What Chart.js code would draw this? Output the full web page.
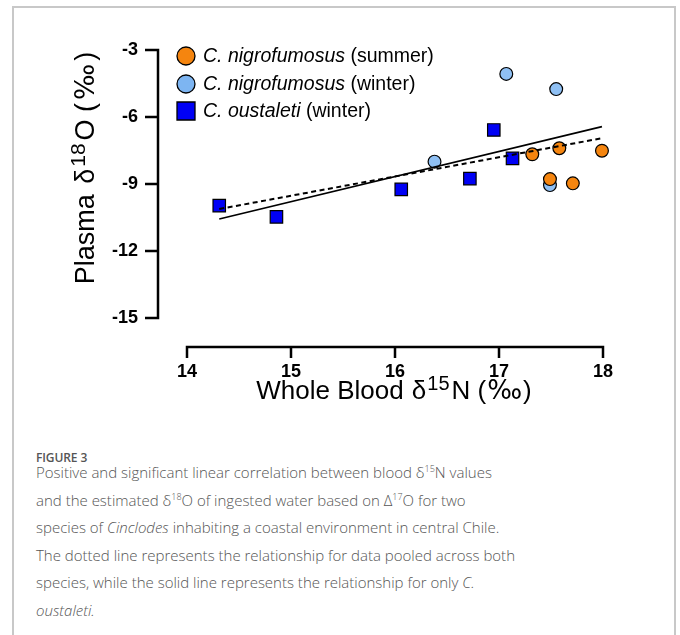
<!DOCTYPE html>
<html>
<head>
<meta charset="utf-8">
<script src="https://cdn.jsdelivr.net/npm/chart.js@4"></script>
<style>
  html, body { margin: 0; padding: 0; background: #fff; }
  body { width: 680px; height: 635px; position: relative; overflow: hidden; }
  #frame { position: absolute; left: 12px; top: 6px; width: 660px; height: 700px;
           border: 2px solid #c8c8c8; border-bottom: none; }
  #chartBox { position: absolute; left: 0; top: 0; width: 680px; height: 440px; }
  #figLabel { position: absolute; left: 36px; top: 450px; font: 600 12px/16px "Open Sans", sans-serif;
              color: #555; letter-spacing: -0.1px; }
  #caption { position: absolute; left: 36px; top: 459px; width: 630px; font: 300 15px/27.5px "Open Sans", sans-serif;
             color: #555; }
  #caption sup { font-size: 9px; line-height: 0; vertical-align: 6px; }
</style>
</head>
<body>
<div id="frame"></div>
<div id="chartBox"><canvas id="plot" width="680" height="440"></canvas></div>
<div id="figLabel">FIGURE 3</div>
<div id="caption">Positive and significant linear correlation between blood δ<sup>15</sup>N values<br>and the estimated δ<sup>18</sup>O of ingested water based on Δ<sup>17</sup>O for two<br>species of <i>Cinclodes</i> inhabiting a coastal environment in central Chile.<br>The dotted line represents the relationship for data pooled across both<br>species, while the solid line represents the relationship for only <i>C.</i><br><i>oustaleti.</i></div>
<script>
// values
const summerX = [17.32, 17.58, 17.99, 17.49, 17.71];
const summerY = [-7.67, -7.40, -7.51, -8.78, -8.97];
const winterX = [17.07, 17.55, 16.38, 17.49];
const winterY = [-4.07, -4.75, -8.00, -9.05];
const oustX = [14.31, 14.86, 16.06, 16.72, 16.95, 17.13];
const oustY = [-9.97, -10.47, -9.24, -8.76, -6.58, -7.85];
// regression lines (end points)
const oustFitX = [14.31, 17.99];
const oustFitY = [-10.57, -6.43];
const pooledFitX = [14.31, 17.99];
const pooledFitY = [-10.12, -6.95];

const xTicks = [14, 15, 16, 17, 18];
const yTicks = [-15, -12, -9, -6, -3];

const legendNames = ['C. nigrofumosus', 'C. nigrofumosus', 'C. oustaleti'];
const legendSeasons = ['(summer)', '(winter)', '(winter)'];
const legendColors = ['#F5850F', '#7DB5F2', '#0000F5'];
const legendShapes = ['circle', 'circle', 'rect'];

const FONT = 'Arial, "Liberation Sans", sans-serif';
const WIDE = '"DejaVu Sans", ' + FONT;

function toPoints(xs, ys) {
    return xs.map((x, i) => ({ x: x, y: ys[i] }));
}

// draw text made of several runs (normal / italic / superscript)
function drawRuns(ctx, runs, x, y, align) {
    let total = 0;
    runs.forEach(r => {
        ctx.font = r.font;
        r.w = ctx.measureText(r.text).width + (r.gap || 0);
        total += r.w;
    });
    let cx = align === 'center' ? x - total / 2 : x;
    runs.forEach(r => {
        ctx.font = r.font;
        ctx.fillText(r.text, cx, y - (r.rise || 0));
        cx += r.w;
    });
}

// Prism style detached axes, titles and legend
const prismPlugin = {
    id: 'prismAxes',
    afterDraw(chart) {
        const { ctx, scales: { x, y } } = chart;
        ctx.save();
        ctx.strokeStyle = '#000';
        ctx.fillStyle = '#000';
        ctx.lineWidth = 2.5;
        ctx.lineCap = 'butt';

        // y axis, shifted left of the plot area
        const yAxisX = x.left - 29;
        ctx.beginPath();
        ctx.moveTo(yAxisX, y.getPixelForValue(yTicks[yTicks.length - 1]) - 1.25);
        ctx.lineTo(yAxisX, y.getPixelForValue(yTicks[0]) + 1.25);
        yTicks.forEach(v => {
            const py = y.getPixelForValue(v);
            ctx.moveTo(yAxisX, py);
            ctx.lineTo(yAxisX - 13, py);
        });
        ctx.stroke();

        // x axis, shifted below the plot area
        const xAxisY = y.bottom + 29;
        ctx.beginPath();
        ctx.moveTo(x.getPixelForValue(xTicks[0]) - 1.25, xAxisY);
        ctx.lineTo(x.getPixelForValue(xTicks[xTicks.length - 1]) + 1.25, xAxisY);
        xTicks.forEach(v => {
            const px = x.getPixelForValue(v);
            ctx.moveTo(px, xAxisY);
            ctx.lineTo(px, xAxisY + 11);
        });
        ctx.stroke();

        // axis titles
        ctx.textBaseline = 'alphabetic';
        drawRuns(ctx, [
            { text: 'Whole Blood ', font: '26px ' + FONT, gap: 1 },
            { text: 'δ', font: '26px ' + FONT, gap: 1 },
            { text: '15', font: '20px ' + FONT, rise: 9, gap: 2 },
            { text: 'N (', font: '26px ' + FONT, gap: 1 },
            { text: '‰', font: '26px ' + WIDE, gap: 1 },
            { text: ')', font: '26px ' + FONT }
        ], 394, 399, 'center');

        ctx.save();
        ctx.translate(94, 168);
        ctx.rotate(-Math.PI / 2);
        drawRuns(ctx, [
            { text: 'Plasma ', font: '27px ' + FONT, gap: 3 },
            { text: 'δ', font: '27px ' + FONT, gap: 2 },
            { text: '18', font: '21px ' + FONT, rise: 9, gap: 3 },
            { text: 'O (', font: '27px ' + FONT, gap: 3 },
            { text: '‰', font: '27px ' + WIDE, gap: 3 },
            { text: ')', font: '27px ' + FONT }
        ], 0, 0, 'center');
        ctx.restore();

        // legend
        const legX = 186, legY = [56, 84, 111];
        ctx.textBaseline = 'middle';
        legendNames.forEach((name, i) => {
            ctx.fillStyle = legendColors[i];
            ctx.strokeStyle = '#000';
            ctx.lineWidth = 1.3;
            ctx.beginPath();
            if (legendShapes[i] === 'circle') {
                ctx.arc(legX, legY[i], 9, 0, Math.PI * 2);
            } else {
                ctx.rect(legX - 9, legY[i] - 9, 18, 18);
            }
            ctx.fill();
            ctx.stroke();
            ctx.fillStyle = '#000';
            drawRuns(ctx, [
                { text: name, font: 'italic 19.5px ' + FONT },
                { text: ' ' + legendSeasons[i], font: '19.5px ' + FONT }
            ], 203, legY[i] + 1, 'left');
        });
        ctx.restore();
    }
};

// keep the plot area exactly where the layout puts it (no label overflow padding)
function noOverflow(s) {
    s.paddingTop = 0; s.paddingBottom = 0; s.paddingLeft = 0; s.paddingRight = 0;
}

const ctx = document.getElementById('plot').getContext('2d');
const chart = new Chart(ctx, {
    type: 'scatter',
    data: {
        datasets: [
            {
                label: 'C. oustaleti fit', data: toPoints(oustFitX, oustFitY), type: 'line',
                borderColor: '#000', borderWidth: 1.6, pointRadius: 0, fill: false, order: 0, clip: false
            },
            {
                label: 'Pooled fit', data: toPoints(pooledFitX, pooledFitY), type: 'line',
                borderColor: '#000', borderWidth: 2, borderDash: [5, 3.5], pointRadius: 0, fill: false, order: 0, clip: false
            },
            {
                label: 'C. nigrofumosus (summer)', data: toPoints(summerX, summerY),
                backgroundColor: legendColors[0], borderColor: '#000', borderWidth: 1.2,
                pointStyle: 'circle', pointRadius: 6.4, order: 1, clip: false
            },
            {
                label: 'C. nigrofumosus (winter)', data: toPoints(winterX, winterY),
                backgroundColor: '#8FC0F4', borderColor: '#000', borderWidth: 1.2,
                pointStyle: 'circle', pointRadius: 6.4, order: 2, clip: false
            },
            {
                label: 'C. oustaleti (winter)', data: toPoints(oustX, oustY),
                backgroundColor: legendColors[2], borderColor: '#000', borderWidth: 1.2,
                pointStyle: 'rect', pointRadius: 8.8, order: 3, clip: false
            }
        ]
    },
    options: {
        responsive: false, animation: false,
        layout: { padding: { top: 50, right: 77, left: 0, bottom: 0 } },
        scales: {
            x: {
                type: 'linear', min: 14, max: 18,
                afterBuildTicks: s => { s.ticks = xTicks.map(v => ({ value: v })); },
                afterFit: s => { s.height = 122; noOverflow(s); },
                grid: { display: false, drawTicks: false },
                border: { display: false },
                ticks: { color: '#000', padding: 43, font: { family: FONT, size: 18, weight: 'bold' } }
            },
            y: {
                type: 'linear', min: -15, max: -3,
                afterBuildTicks: s => { s.ticks = yTicks.map(v => ({ value: v })); },
                afterFit: s => { s.width = 187; noOverflow(s); },
                grid: { display: false, drawTicks: false },
                border: { display: false },
                ticks: { color: '#000', padding: 49, font: { family: FONT, size: 18, weight: 'bold' } }
            }
        },
        plugins: { legend: { display: false }, tooltip: { enabled: false } }
    },
    plugins: [prismPlugin]
});
</script>
</body>
</html>
